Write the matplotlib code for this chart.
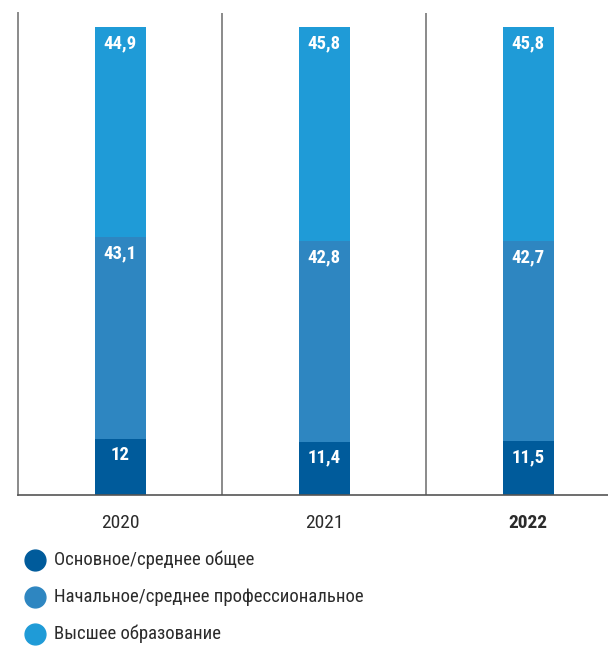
import matplotlib.pyplot as plt
from matplotlib.lines import Line2D

years = ['2020', '2021', '2022']
basic = [12, 11.4, 11.5]
vocational = [43.1, 42.8, 42.7]
higher = [44.9, 45.8, 45.8]
series_names = ['Основное/среднее общее',
                'Начальное/среднее профессиональное',
                'Высшее образование']

colors = ['#005b9b', '#2e86c1', '#1f9bd7']
font = ['DejaVu Sans Condensed', 'Liberation Sans Narrow',
        'Roboto Condensed', 'DejaVu Sans']


def fmt(v):
    return f'{v:g}'.replace('.', ',')


W, H = 608, 646
fig = plt.figure(figsize=(W / 100, H / 100), dpi=100)
ax = fig.add_axes([18 / W, (H - 495) / H, 612 / W, (495 - 13) / H])

x = range(len(years))
bottoms = [0] * len(years)
for vals, col in zip([basic, vocational, higher], colors):
    bars = ax.bar(x, vals, width=0.25, bottom=bottoms, color=col, zorder=2)
    for b, v, base in zip(bars, vals, bottoms):
        ax.text(b.get_x() + b.get_width() / 2, base + v - 3.4, fmt(v),
                ha='center', va='center', color='white', fontsize=13.5,
                fontweight='bold', family=font)
    bottoms = [a + b for a, b in zip(bottoms, vals)]

ax.set_xlim(-0.5, 2.5)
ax.set_ylim(0, 103)
ax.vlines([0.5, 1.5], 0, 103, color='#8a8a8a', linewidth=1.4, zorder=1)

for s in ['top', 'right']:
    ax.spines[s].set_visible(False)
ax.spines['left'].set_color('#8a8a8a')
ax.spines['left'].set_linewidth(1.4)
ax.spines['bottom'].set_color('#555555')
ax.spines['bottom'].set_linewidth(1.2)

ax.set_yticks([])
ax.set_xticks(list(x))
ax.set_xticklabels(years, family=font, fontsize=14, color='#2b2b2b')
ax.get_xticklabels()[2].set_fontweight('bold')
ax.tick_params(axis='x', length=0, pad=14)

# legend drawn by hand under the chart
for i, (name, col) in enumerate(zip(series_names, colors)):
    y = 1 - (560 + 37 * i) / H
    fig.add_artist(Line2D([35 / W], [y], marker='o', markersize=15,
                          color=col, transform=fig.transFigure))
    fig.text(54 / W, y, name, va='center', ha='left', fontsize=13.5,
             color='#2b2b2b', family=font)

fig.savefig('out.png', dpi=100, facecolor='white')
